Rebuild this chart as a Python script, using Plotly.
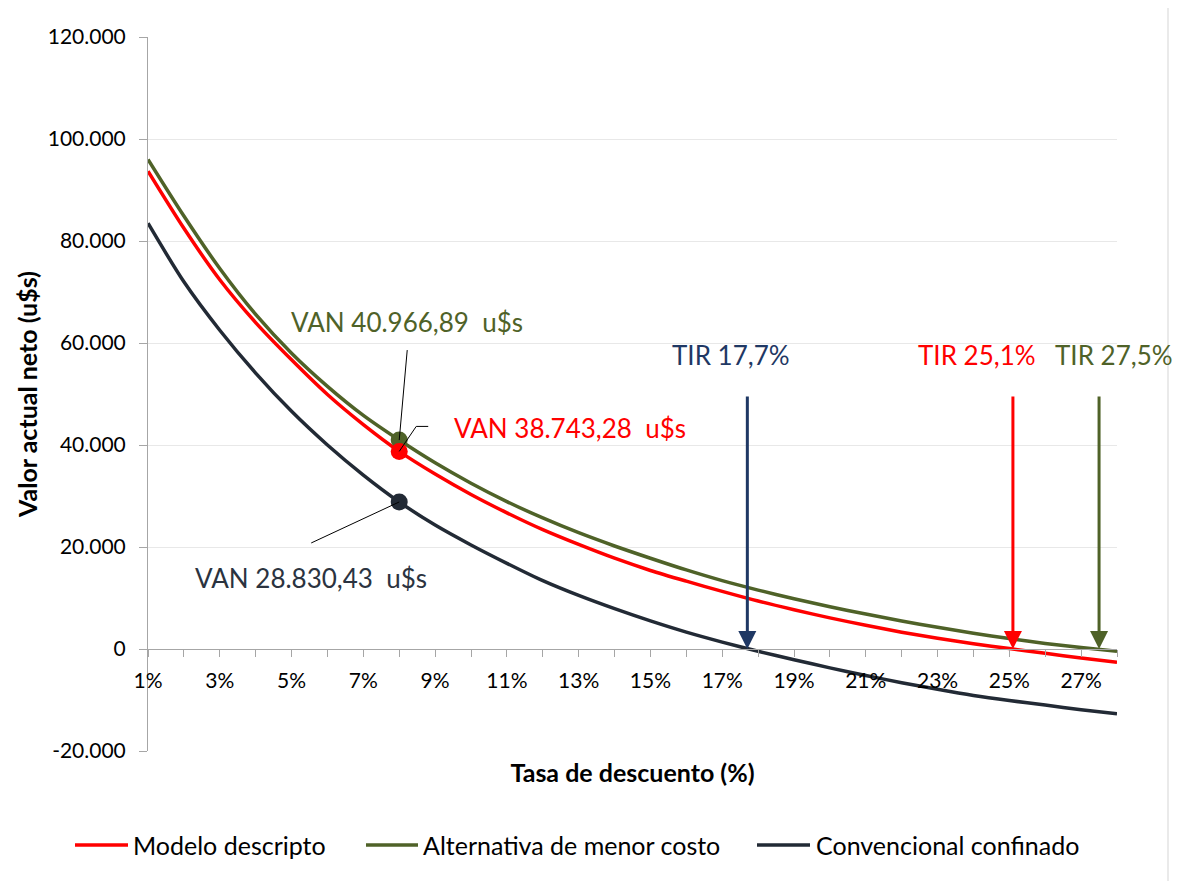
import plotly.graph_objects as go

# ---------------- data ----------------
rates = list(range(1, 29))  # discount rate, %
tick_vals_x = list(range(1, 29))
tick_text_x = [f"{r}%" if r % 2 == 1 else "" for r in tick_vals_x]

y_tick_vals = [-20000, 0, 20000, 40000, 60000, 80000, 100000, 120000]
y_tick_text = ["-20.000", "0", "20.000", "40.000", "60.000", "80.000", "100.000", "120.000"]

names = ["Modelo descripto", "Alternativa de menor costo", "Convencional confinado"]

modelo = [93700, 82500, 72400, 64000, 56700, 49900, 44000, 38743.28, 34300, 30300,
          26700, 23400, 20500, 17800, 15400, 13300, 11300, 9400, 7700, 6100,
          4650, 3300, 2100, 1050, 80, -850, -1750, -2600]
alternativa = [96000, 84900, 74600, 65600, 58000, 51500, 45800, 40966.89, 36500, 32500,
               28900, 25700, 22800, 20200, 17800, 15500, 13400, 11550, 9850, 8300,
               6850, 5500, 4250, 3100, 2050, 1100, 300, -450]
convencional = [83500, 72000, 62500, 54100, 46600, 40000, 34100, 28830.43, 24300, 20400,
                16800, 13400, 10500, 7900, 5500, 3300, 1350, -450, -2100, -3700,
                -5200, -6600, -7900, -9100, -10100, -11000, -11900, -12700]

tir = [25.1, 27.5, 17.7]          # TIR (%) for each series
van_rate = 8                      # rate at which the VAN is highlighted

# ---------------- style ----------------
RED = "#FF0000"
GREEN = "#4F6228"
DARK = "#222A35"
NAVY = "#1F3864"
colors = [RED, GREEN, DARK]
tir_colors = [RED, GREEN, NAVY]
van_text_colors = [RED, GREEN, "#2B3340"]
FONT = "Lato, Calibri, Open Sans, sans-serif"

OFF = 8                      # page body margin
W, H = 1183 - OFF, 881 - OFF
PL, PR, PT, PB = 148, 1117, 37, 751   # plot area on screen
L, T = PL - OFF, PT - OFF
R, B = W - (PR - OFF), H - (PB - OFF)
PW, PH = PR - PL, PB - PT


def px_x(px):
    return (px - PL) / PW


def px_y(py):
    return (PB - py) / PH


def fmt_es(v):
    s = f"{v:,.2f}"
    return s.replace(",", "X").replace(".", ",").replace("X", ".")


series = [modelo, alternativa, convencional]

fig = go.Figure()

# lines (draw dark, green, red so red sits on top)
for i in [2, 1, 0]:
    fig.add_trace(go.Scatter(
        x=rates, y=series[i], mode="lines", name=names[i],
        line=dict(color=colors[i], width=3.5, shape="spline", smoothing=0.8),
        showlegend=False, hoverinfo="x+y+name"))

# highlighted VAN markers
vi = rates.index(van_rate)
for i in [2, 1, 0]:
    fig.add_trace(go.Scatter(
        x=[rates[vi]], y=[series[i][vi]], mode="markers",
        marker=dict(color=colors[i], size=17), showlegend=False,
        hoverinfo="skip"))

annotations = []
shapes = []

# TIR arrows + labels
tir_label_shift = [-36, 15, -16]
for i in range(3):
    annotations.append(dict(
        x=tir[i], y=0, ax=tir[i], ay=49800, xref="x", yref="y",
        axref="x", ayref="y", text="", showarrow=True,
        arrowhead=2, arrowsize=1.2, arrowwidth=3, arrowcolor=tir_colors[i],
        standoff=0, startstandoff=0))
    annotations.append(dict(
        x=tir[i], y=0, xref="x", yref="y", xshift=tir_label_shift[i], yshift=294,
        text=f"TIR {str(tir[i]).replace('.', ',')}%", showarrow=False,
        font=dict(family=FONT, size=26, color=tir_colors[i]),
        xanchor="center", yanchor="middle"))

# VAN labels + leader lines (pixel offsets relative to the marker)
van_text_shift = [(171, 23), (8, 118), (-88, -76)]
leaders = [
    [(0, 0, 17, 25), (17, 25, 29, 25)],
    [(0, 0, 8, 90)],
    [(0, 0, -88, -41)],
]
for i in range(3):
    v = series[i][vi]
    annotations.append(dict(
        x=rates[vi], y=v, xref="x", yref="y",
        xshift=van_text_shift[i][0], yshift=van_text_shift[i][1],
        text=f"VAN {fmt_es(v)}  u$s", showarrow=False,
        font=dict(family=FONT, size=26, color=van_text_colors[i]),
        xanchor="center", yanchor="middle"))
    for (x0, y0, x1, y1) in leaders[i]:
        shapes.append(dict(
            type="line", xref="x", yref="y", xsizemode="pixel", ysizemode="pixel",
            xanchor=rates[vi], yanchor=v, x0=x0, y0=y0, x1=x1, y1=y1,
            line=dict(color="black", width=1)))

# manual legend
legend_items = [(75, 128, 131), (366, 418, 421), (757, 810, 814)]
ly = px_y(845)
for i, (x0, x1, xt) in enumerate(legend_items):
    shapes.append(dict(type="line", xref="paper", yref="paper",
                       x0=px_x(x0), x1=px_x(x1), y0=ly, y1=ly,
                       line=dict(color=colors[i], width=3.5)))
    annotations.append(dict(x=px_x(xt), y=ly, xref="paper", yref="paper",
                            text=names[i], showarrow=False, xanchor="left",
                            yanchor="middle",
                            font=dict(family=FONT, size=25, color="black")))

# chart-area border (right edge)
shapes.append(dict(type="line", xref="paper", yref="paper",
                   x0=px_x(1168), x1=px_x(1168), y0=px_y(5), y1=px_y(881),
                   line=dict(color="#E3E3E3", width=1.5)))

fig.update_layout(
    width=W, height=H,
    margin=dict(l=L, r=R, t=T, b=B),
    paper_bgcolor="white", plot_bgcolor="white",
    font=dict(family=FONT, size=21, color="black"),
    showlegend=False,
    annotations=annotations,
    shapes=shapes,
    xaxis=dict(
        range=[1, 28], tickmode="array", tickvals=tick_vals_x, ticktext=tick_text_x,
        anchor="free", position=1 / 7,
        showline=True, linecolor="#A6A6A6", linewidth=1,
        ticks="outside", ticklen=7, tickcolor="#A6A6A6", ticklabelstandoff=6,
        showgrid=False, zeroline=False,
        tickfont=dict(family=FONT, size=21, color="black"),
        title=dict(text="<b>Tasa de descuento (%)</b>", standoff=73,
                   font=dict(family=FONT, size=25, color="black")),
    ),
    yaxis=dict(
        range=[-20000, 120000], tickmode="array", tickvals=y_tick_vals, ticktext=y_tick_text,
        showline=True, linecolor="#A6A6A6", linewidth=1,
        ticks="outside", ticklen=8, tickcolor="#A6A6A6", ticklabelstandoff=9,
        showgrid=True, gridcolor="#E8E8E8", gridwidth=1, zeroline=False,
        tickfont=dict(family=FONT, size=21, color="black"),
        title=dict(text="<b>Valor actual neto (u$s)</b>", standoff=3,
                   font=dict(family=FONT, size=25, color="black")),
    ),
)

fig.write_html("out.html")
